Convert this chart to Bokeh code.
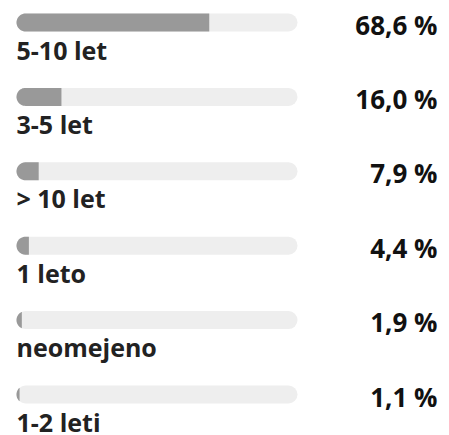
import math
from bokeh.plotting import figure
from bokeh.models import Range1d
from bokeh.core.properties import value
from bokeh.embed import file_html
from bokeh.resources import INLINE

categories = ["5-10 let", "3-5 let", "> 10 let", "1 leto", "neomejeno", "1-2 leti"]
shares = [68.6, 16.0, 7.9, 4.4, 1.9, 1.1]
share_labels = ["68,6 %", "16,0 %", "7,9 %", "4,4 %", "1,9 %", "1,1 %"]

W, H = 449, 435
LEFT = 16.0          # px, left edge of track
TRACK_PX = 281.0     # px for 100 %
ROW_PX = 74.4        # px between rows
TOP = 22.0           # px, center of first bar
BAR_H = 18.0         # px
R = BAR_H / 2

PX_X = TRACK_PX / 100.0   # px per percent unit
PX_Y = ROW_PX             # px per row unit

p = figure(width=W, height=H, output_backend="svg", toolbar_location=None,
           x_axis_location=None, y_axis_location=None, min_border=0,
           x_range=Range1d(-LEFT / PX_X, (W - LEFT) / PX_X),
           y_range=Range1d((H - TOP) / PX_Y, -TOP / PX_Y))
p.outline_line_color = None
p.grid.visible = False
p.background_fill_color = "white"
p.border_fill_color = "white"

rows = list(range(len(categories)))

# track (rounded both ends)
ru = R / PX_X
p.segment(x0=[ru] * len(rows), x1=[100 - ru] * len(rows), y0=rows, y1=rows,
          line_width=BAR_H, line_cap="round", line_color="#eeeeee")

# filled part: left end rounded, right end square
def fill_shape(v, row):
    w = v * PX_X
    xs, ys = [], []
    if w >= R:
        xs.append(w); ys.append(-R)
        for k in range(0, 41):
            t = math.pi / 2 + math.pi * k / 40
            xs.append(R + R * math.cos(t)); ys.append(-R * math.sin(t))
        xs.append(w); ys.append(R)
    else:
        a = math.acos((w - R) / R)
        for k in range(0, 41):
            t = a + (2 * math.pi - 2 * a) * k / 40
            xs.append(R + R * math.cos(t)); ys.append(R * math.sin(t))
    return [x / PX_X for x in xs], [row + y / PX_Y for y in ys]

fx, fy = [], []
for v, r in zip(shares, rows):
    a, b = fill_shape(v, r)
    fx.append(a); fy.append(b)
p.patches(fx, fy, fill_color="#999999", line_color=None)

# category labels
p.text(x=[0] * len(rows), y=[r + 27 / PX_Y for r in rows], text=categories,
       text_font=value("Open Sans"), text_font_style="bold", text_font_size="25px",
       text_color="#222222", text_align="left", text_baseline="alphabetic")

# share labels
p.text(x=[(437 - LEFT) / PX_X] * len(rows), y=[r + 2 / PX_Y for r in rows], text=share_labels,
       text_font=value("Open Sans"), text_font_style="bold", text_font_size="26px",
       text_color="#111111", text_align="right", text_baseline="alphabetic")

open("out.html", "w").write(file_html(p, INLINE))
